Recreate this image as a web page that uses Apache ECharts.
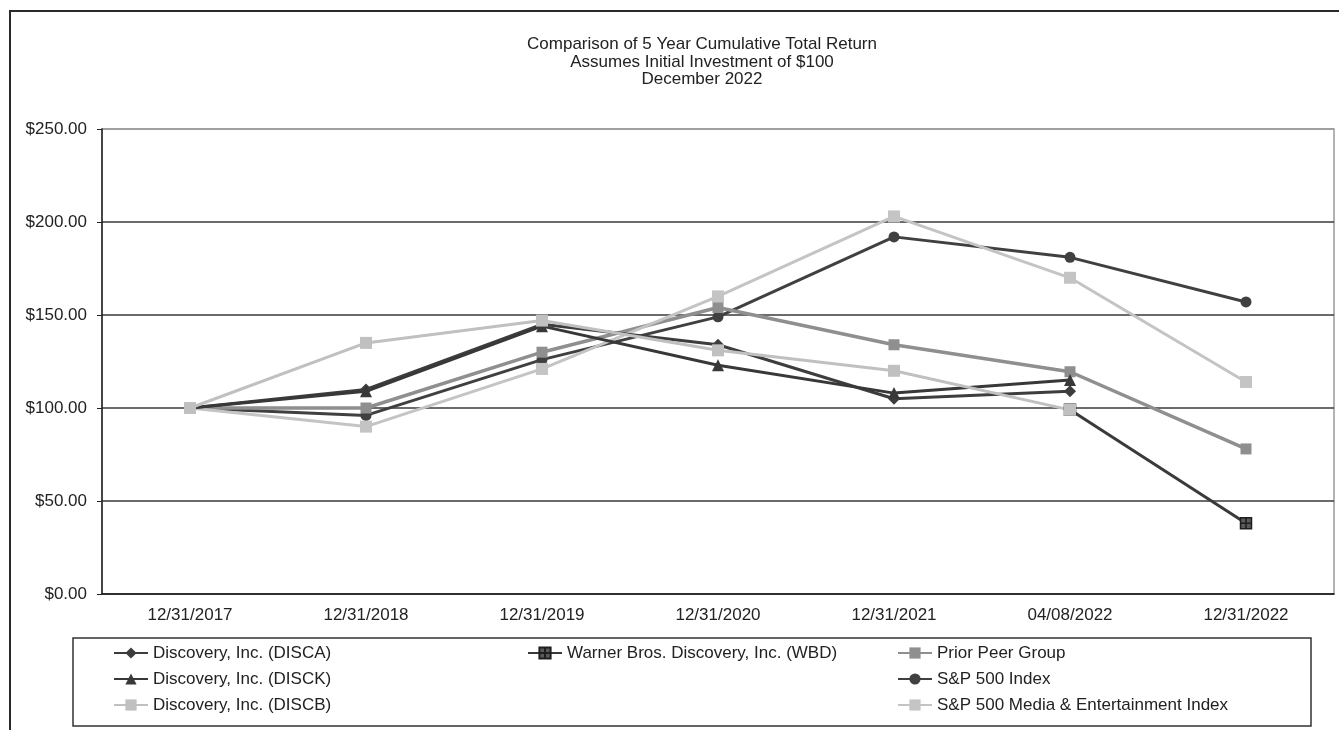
<!DOCTYPE html>
<html>
<head>
<meta charset="utf-8">
<script src="https://cdn.jsdelivr.net/npm/echarts@6/dist/echarts.min.js"></script>
<style>
html,body{margin:0;padding:0;background:#fff;}
#main{width:1339px;height:730px;}
</style>
</head>
<body>
<div id="main"></div>
<script>
var categories = ['12/31/2017','12/31/2018','12/31/2019','12/31/2020','12/31/2021','04/08/2022','12/31/2022'];
var disca = [100, 110, 145, 134, 105, 109, null];
var disck = [100, 109, 144, 123, 108, 115, null];
var discb = [100, 135, 147, 131, 120, 99, null];
var wbd = [null, null, null, null, null, 99, 38];
var priorPeer = [100, 100, 130, 154, 134, 119.5, 78];
var sp500 = [100, 96, 126, 149, 192, 181, 157];
var spMedia = [100, 90, 121, 160, 203, 170, 114];
var yTicks = [0, 50, 100, 150, 200, 250];

var FONT = '"Liberation Sans", Arial, sans-serif';
var chart = echarts.init(document.getElementById('main'));

function mk(name, data, color, symbol, size, width) {
  return {
    name: name, type: 'line', data: data, symbol: symbol, symbolSize: size,
    connectNulls: false,
    lineStyle: {color: color, width: width},
    itemStyle: {color: color},
    emphasis: {disabled: true}
  };
}
var wbdSeries = mk('Warner Bros. Discovery, Inc. (WBD)', wbd, '#3a3a3a',
  'path://M0,0H10V10H0Z M5,0V10 M0,5H10', 11, 3);
wbdSeries.itemStyle = {color: '#5a5a5a', borderColor: '#1e1e1e', borderWidth: 1.5};

var legendBase = {
  orient: 'vertical', top: 643, padding: 0, itemWidth: 34, itemHeight: 14, itemGap: 6,
  selectedMode: false,
  textStyle: {fontSize: 17, lineHeight: 20, color: '#222', fontFamily: FONT}
};

chart.setOption({
  animation: false,
  backgroundColor: '#fff',
  textStyle: {fontFamily: FONT},
  graphic: [
    {type: 'rect', shape: {x: 10, y: 11, width: 1400, height: 800},
     style: {fill: 'none', stroke: '#2a2a2a', lineWidth: 2}, silent: true},
    {type: 'rect', shape: {x: 73, y: 638, width: 1238, height: 88},
     style: {fill: 'none', stroke: '#333', lineWidth: 1.5}, silent: true},
    {type: 'text', x: 702, y: 36, silent: true,
     style: {text: 'Comparison of 5 Year Cumulative Total Return\nAssumes Initial Investment of $100\nDecember 2022',
             textAlign: 'center', textVerticalAlign: 'top', fontSize: 17, lineHeight: 17.5,
             fontFamily: FONT, fill: '#222'}}
  ],
  grid: {left: 102, right: 5, top: 129, bottom: 136, show: true, borderColor: '#9a9a9a', borderWidth: 1.5},
  xAxis: {
    type: 'category', data: categories, boundaryGap: true,
    axisLine: {lineStyle: {color: '#222', width: 1.5}},
    axisTick: {inside: true, alignWithLabel: true, length: 5, lineStyle: {color: '#222'}},
    axisLabel: {fontSize: 17, color: '#222', margin: 13, fontFamily: FONT},
    splitLine: {show: false}
  },
  yAxis: {
    type: 'value', min: 0, max: 250, interval: 50,
    axisLine: {show: true, lineStyle: {color: '#222', width: 1.5}},
    axisTick: {show: true, length: 5, lineStyle: {color: '#222'}},
    axisLabel: {fontSize: 17, color: '#222', margin: 15, fontFamily: FONT,
      formatter: function (v) { return yTicks.indexOf(v) >= 0 ? '$' + v.toFixed(2) : ''; }},
    splitLine: {show: true, lineStyle: {color: ['#3a3a3a','#3a3a3a','#3a3a3a','#3a3a3a','#3a3a3a','#9a9a9a'], width: 1.5}}
  },
  legend: [
    Object.assign({}, legendBase, {left: 113, data: ['Discovery, Inc. (DISCA)', 'Discovery, Inc. (DISCK)', 'Discovery, Inc. (DISCB)']}),
    Object.assign({}, legendBase, {left: 527, data: ['Warner Bros. Discovery, Inc. (WBD)']}),
    Object.assign({}, legendBase, {left: 897, data: ['Prior Peer Group', 'S&P 500 Index', 'S&P 500 Media & Entertainment Index']})
  ],
  series: [
    wbdSeries,
    mk('S&P 500 Index', sp500, '#404040', 'circle', 11, 3),
    mk('Prior Peer Group', priorPeer, '#8f8f8f', 'rect', 11, 3.5),
    mk('S&P 500 Media & Entertainment Index', spMedia, '#c4c4c4', 'rect', 12, 3),
    mk('Discovery, Inc. (DISCA)', disca, '#3d3d3d', 'diamond', 12, 3),
    mk('Discovery, Inc. (DISCK)', disck, '#383838', 'triangle', 12, 3),
    mk('Discovery, Inc. (DISCB)', discb, '#c0c0c0', 'rect', 12, 3)
  ]
});
</script>
</body>
</html>
